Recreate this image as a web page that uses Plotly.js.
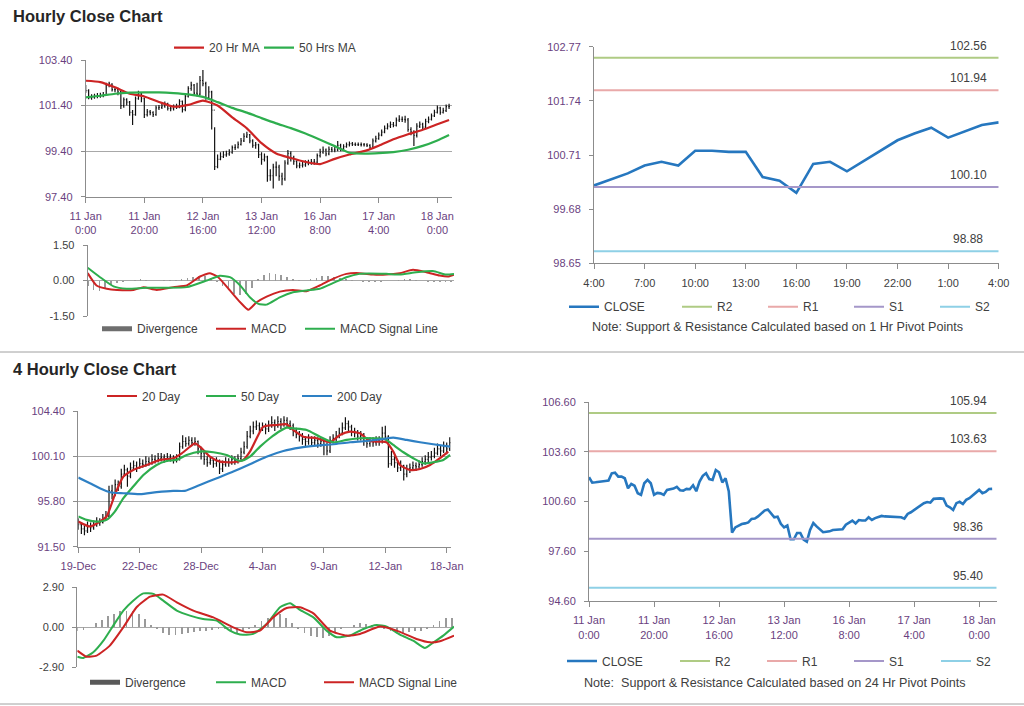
<!DOCTYPE html>
<html>
<head>
<meta charset="utf-8">
<script src="https://cdn.plot.ly/plotly-3.0.1.min.js"></script>
<style>
html,body{margin:0;padding:0;background:#fff;}
#chart{width:1024px;height:706px;}
</style>
</head>
<body>
<div id="chart"></div>
<script>
// ---------- Hourly data (11 Jan 0:00 -> 18 Jan ~4:00, 125 hourly bars) ----------
const hourlyTickText = ["11 Jan<br>0:00","11 Jan<br>20:00","12 Jan<br>16:00","13 Jan<br>12:00","16 Jan<br>8:00","17 Jan<br>4:00","18 Jan<br>0:00"];
const hourlyTickIdx = [0,20,40,60,80,100,120];
const hourlyClose = [102.06,101.74,101.76,101.80,101.82,101.84,101.86,102.30,102.34,102.10,
102.10,102.00,101.40,101.66,101.55,101.10,101.00,101.70,101.90,101.70,
101.00,101.12,101.09,101.00,101.30,101.32,101.38,101.48,101.28,101.26,
101.36,101.34,101.58,101.22,101.80,102.15,102.30,101.95,101.90,102.50,
102.36,101.75,102.00,101.20,98.72,99.04,99.16,99.24,99.28,99.34,
99.55,99.57,99.70,99.85,100.05,100.12,99.85,99.65,99.68,99.25,
99.04,99.15,98.32,98.32,98.70,98.70,98.30,98.18,98.88,99.30,
99.10,98.95,98.75,98.78,98.80,98.88,98.90,98.92,98.92,99.20,
99.35,99.45,99.28,99.48,99.45,99.45,99.65,99.49,99.60,99.68,
99.73,99.70,99.69,99.69,99.69,99.68,99.65,99.57,99.85,99.95,
100.10,100.23,100.40,100.50,100.57,100.53,100.76,100.79,100.79,100.77,
100.35,100.25,100.09,100.50,100.58,100.45,100.70,100.80,100.95,101.10,
101.30,101.10,101.18,101.35,101.36];
const hourlyOpenFirst = 102.10;
const hourlyHigh = [102.30,102.12,101.90,101.92,101.95,101.96,102.00,102.40,102.45,102.38,
102.22,102.18,102.05,101.75,101.72,101.60,101.20,101.80,102.05,101.95,
101.75,101.25,101.20,101.15,101.40,101.42,101.48,101.58,101.52,101.38,
101.45,101.48,101.68,101.62,101.90,102.25,102.45,102.35,102.40,102.70,
102.96,102.45,102.25,102.05,100.45,99.25,99.35,99.40,99.42,99.48,
99.65,99.70,99.82,99.98,100.18,100.25,100.15,99.92,99.80,99.72,
99.35,99.30,99.20,98.60,98.85,98.95,98.80,98.45,99.00,99.45,
99.40,99.20,99.00,98.90,98.92,99.00,99.02,99.05,99.05,99.30,
99.50,99.60,99.52,99.60,99.58,99.58,99.85,99.72,99.70,99.78,
99.82,99.80,99.78,99.78,99.78,99.76,99.75,99.70,99.95,100.08,
100.22,100.35,100.52,100.62,100.70,100.68,100.88,100.98,100.92,100.95,
100.85,100.45,100.32,100.62,100.70,100.65,100.82,100.92,101.05,101.22,
101.40,101.35,101.30,101.45,101.48];
const hourlyLow = [101.95,101.68,101.65,101.70,101.72,101.74,101.76,101.82,102.20,102.02,
101.98,101.85,101.25,101.30,101.40,100.95,100.55,100.95,101.65,101.55,
100.85,100.92,100.98,100.90,100.95,101.20,101.25,101.30,101.18,101.15,
101.18,101.25,101.28,101.10,101.15,101.75,102.05,101.85,101.80,101.85,
102.25,101.65,101.70,100.35,98.57,98.65,99.00,99.10,99.15,99.20,
99.28,99.45,99.52,99.65,99.80,99.98,99.75,99.55,99.50,99.10,
98.80,98.95,98.06,98.10,97.76,98.30,98.10,97.90,98.10,98.80,
98.95,98.80,98.65,98.65,98.68,98.72,98.78,98.80,98.80,98.85,
99.12,99.28,99.18,99.22,99.35,99.35,99.40,99.40,99.45,99.55,
99.60,99.62,99.62,99.62,99.60,99.60,99.58,99.48,99.52,99.78,
99.90,100.05,100.18,100.35,100.42,100.45,100.48,100.68,100.68,100.65,
100.25,100.10,99.62,100.00,100.42,100.35,100.40,100.62,100.75,100.90,
101.05,101.00,101.05,101.12,101.25];
const hourlyMaIdx = [0,5,10,15,20,25,30,35,40,45,50,55,60,65,70,75,80,85,90,95,100,105,110,115,120,124];
const ma20Hr = [102.49,102.43,102.20,101.92,101.80,101.56,101.35,101.43,101.62,101.40,100.88,100.40,99.75,99.30,99.10,98.93,98.83,99.06,99.25,99.40,99.64,99.92,100.14,100.34,100.58,100.77];
const ma50Hr = [101.76,101.83,101.92,101.97,101.98,101.98,101.95,101.89,101.78,101.55,101.30,101.09,100.85,100.62,100.41,100.17,99.90,99.62,99.33,99.29,99.31,99.36,99.46,99.63,99.87,100.11];
const hourlyPriceTicks = [97.40,99.40,101.40,103.40];

// Hourly MACD
const hMacdIdx = [0,3,6.5,10,15.6,19,23.5,29.2,33.8,38.3,41.7,44.5,48.5,52,54.8,57.6,61,65.5,70,74.6,79.1,83.6,88.2,92.7,97.3,101.8,106.4,110.9,115.5,120,122.9,124.9];
const hMacd = [0.31,-0.21,-0.35,-0.40,-0.40,-0.28,-0.40,-0.28,-0.21,0.17,0.31,0.14,-0.42,-0.92,-1.24,-0.92,-0.68,-0.47,-0.40,-0.45,-0.21,0.07,0.28,0.31,0.25,0.25,0.31,0.45,0.35,0.21,0.17,0.25];
const hSignalIdx = [0,4.2,8.8,13.3,20.1,26.9,33.8,40.6,45.1,48.5,52,55.3,58.2,61,65.5,70,74.6,79.1,83.6,88.2,92.7,101.8,106.4,112,117.7,122.2,124.9];
const hSignal = [0.54,0.14,-0.25,-0.35,-0.31,-0.31,-0.28,0.00,0.20,0.14,-0.21,-0.71,-0.99,-1.02,-0.71,-0.50,-0.42,-0.35,-0.11,0.14,0.28,0.28,0.25,0.35,0.40,0.25,0.28];
const hDivIdx = [0,2,4,6,8,10,12,14,16,18,20,22,24,26,28,30,32,34,36,38,40,42,44,46,48,50,52,54,56,58,60,62,64,66,68,70,72,74,76,78,80,82,84,86,88,90,92,94,96,98,100,102,104,106,108,110,112,114,116,118,120,122,124];
const hDiv = [-0.25,-0.40,-0.45,-0.35,-0.20,-0.10,-0.05,-0.03,0.02,0.05,0.03,-0.03,-0.04,0.02,0.03,0.02,0.05,0.10,0.15,0.20,0.18,0.12,-0.05,-0.25,-0.40,-0.55,-0.62,-0.55,-0.30,0.05,0.22,0.30,0.28,0.22,0.15,0.08,0.03,-0.03,0.05,0.12,0.20,0.18,0.15,0.10,0.05,0.02,-0.03,-0.05,-0.06,-0.05,-0.05,-0.04,0.00,0.04,0.06,0.05,0.02,-0.03,-0.06,-0.08,-0.08,-0.07,-0.05];
const hMacdTicks = [-1.5,0,1.5];
const hMacdTickText = ["-1.50","0.00","1.50"];

// 1 Hr pivot chart (last 24 hours)
const pivot1hTickText = ["4:00","7:00","10:00","13:00","16:00","19:00","22:00","1:00","4:00"];
const pivot1hTickIdx = [0,3,6,9,12,15,18,21,24];
const close1h = [100.13,100.25,100.36,100.51,100.58,100.51,100.79,100.79,100.77,100.77,100.29,100.22,99.99,100.54,100.58,100.40,100.60,100.80,100.99,101.12,101.23,101.04,101.16,101.28,101.33];
const levels1hNames = ["R2","R1","S1","S2"];
const levels1h = [102.56,101.94,100.10,98.88];
const pivot1hTicks = [98.65,99.68,100.71,101.74,102.77];

// ---------- 4 Hourly data (19 Dec -> 18 Jan, 122 bars) ----------
const fourTickText = ["19-Dec","22-Dec","28-Dec","4-Jan","9-Jan","12-Jan","18-Jan"];
const fourTickIdx = [0,20,40,60,80,100,120];
const fourOpenFirst = 93.9;
const fourClose = [93.6,93.2,93.0,93.5,93.3,93.6,93.9,93.8,94.2,94.4,
96.8,96.5,97.4,97.2,98.4,98.8,98.2,99.0,99.2,99.0,
99.4,99.3,99.6,99.5,99.8,99.7,99.9,100.0,99.8,100.0,
99.9,99.8,99.9,101.0,101.5,101.3,101.6,101.4,101.5,100.8,
100.4,99.8,99.5,99.7,99.4,99.6,98.9,99.3,99.6,99.5,
99.8,99.7,99.9,100.5,101.0,102.0,102.5,102.9,103.0,102.8,
102.9,102.7,103.0,103.3,103.0,103.4,103.1,103.5,103.2,103.0,
102.5,102.2,102.0,101.7,101.5,101.8,101.4,101.6,101.3,101.5,
101.2,100.6,101.6,101.8,102.0,102.3,102.8,103.2,102.9,102.4,
102.3,102.0,102.1,101.6,101.3,101.5,101.4,101.6,101.5,102.3,
102.0,99.4,99.8,99.5,99.0,99.2,98.4,98.9,99.0,99.2,
99.1,99.3,99.6,99.8,100.0,100.1,100.4,100.8,100.6,101.0,
100.8,101.4];
const fourHigh = [94.2,93.8,93.5,93.9,93.8,94.0,94.3,94.2,94.6,94.9,
97.3,97.4,97.9,97.8,98.9,99.3,99.0,99.5,99.7,99.6,
99.9,99.8,100.1,100.0,100.3,100.2,100.4,100.4,100.3,100.4,
100.3,100.2,100.3,101.4,102.1,101.9,102.0,101.9,101.9,101.6,
101.0,100.6,100.1,100.1,99.9,100.0,99.8,99.7,100.0,99.9,
100.2,100.1,100.3,100.9,101.5,102.5,103.0,103.4,103.5,103.3,
103.3,103.2,103.5,103.9,103.6,103.9,103.7,103.9,103.8,103.5,
103.2,102.8,102.5,102.3,102.0,102.2,102.0,102.0,101.9,101.9,
101.8,101.4,102.0,102.2,102.5,102.8,103.3,103.8,103.5,103.1,
102.8,102.6,102.5,102.3,101.9,101.9,101.9,102.0,102.0,102.9,
103.0,102.1,100.6,100.1,99.7,99.7,99.3,99.3,99.4,99.6,
99.5,99.7,100.0,100.2,100.5,100.6,100.9,101.3,101.1,101.5,
101.4,101.9];
const fourLow = [93.1,92.7,92.6,92.8,92.9,93.1,93.4,93.5,93.7,94.0,
94.3,96.0,96.3,96.8,97.0,98.2,97.2,98.0,98.8,98.6,
98.9,99.0,99.1,99.2,99.3,99.4,99.5,99.6,99.5,99.6,
99.6,99.4,99.5,99.7,100.8,101.0,101.1,101.1,101.1,100.3,
99.8,99.3,99.1,99.3,99.0,99.1,98.4,98.6,99.1,99.1,
99.3,99.3,99.4,99.7,100.3,100.8,101.8,102.2,102.6,102.4,
102.5,102.2,102.4,102.8,102.5,102.8,102.7,102.9,102.8,102.6,
102.0,101.8,101.5,101.2,101.0,101.2,101.0,101.1,100.9,101.0,
100.2,100.2,100.4,101.3,101.5,101.8,102.1,102.6,102.4,102.0,
101.9,101.6,101.6,101.1,100.9,101.0,101.0,101.1,101.1,101.3,
101.6,99.0,99.2,99.0,98.6,98.7,97.8,98.1,98.5,98.8,
98.7,98.9,99.1,99.3,99.5,99.7,99.9,100.2,100.1,100.4,
100.3,100.6];
const ma20DayIdx = [0,3.8,7,9.2,11.9,14.7,17.9,22.3,26.6,30.9,33.7,36.4,38,40.2,42.9,46.1,50.5,53.7,55.9,58.1,60.3,64.6,67.9,70,73.3,77.6,82,85.2,88.5,91.7,95,98.3,100.4,102.6,104.8,108,111.3,114.6,117.8,120.5];
const ma20Day = [93.89,93.42,93.89,94.37,96.43,98.17,98.80,99.27,99.75,99.91,100.38,101.01,101.33,100.86,100.06,99.59,99.53,99.75,100.54,101.81,102.91,103.07,103.13,102.60,101.96,101.81,101.43,102.12,102.44,102.28,101.55,101.49,101.43,100.54,99.27,98.80,98.89,99.27,99.91,100.54];
const ma50DayIdx = [0,2.7,6,9.2,11.9,14.7,17.9,21.2,25.5,28.8,32,35.3,39.6,44,48.3,52.7,55.9,59.2,62.4,65.7,67.9,70,74.4,78.7,83.1,87.4,91.7,96.1,99.9,102.6,105.9,109.1,112.4,115.6,118.9,121.1];
const ma50Day = [94.37,94.05,93.89,94.05,94.84,96.11,97.22,98.32,99.27,99.65,99.75,100.22,100.54,100.48,100.22,99.65,100.06,101.01,101.81,102.50,102.82,102.75,102.60,101.96,101.43,101.65,101.81,101.81,101.74,101.17,100.48,99.91,99.43,99.53,99.75,100.22];
const ma200DayIdx = [0,3.8,7,10.3,14.7,20.1,25.5,30.9,34.7,39.6,45.1,50.5,55.9,61.3,66.8,72.2,77.6,83.1,88.5,93.9,99.3,102.6,107,111.3,115.6,121.1];
const ma200Day = [98.07,97.53,97.06,96.68,96.58,96.49,96.68,96.81,96.81,97.37,98.01,98.64,99.34,100.06,100.60,100.92,101.11,101.24,101.43,101.55,101.74,101.87,101.65,101.43,101.24,101.01];
const fourPriceTicks = [91.50,95.80,100.10,104.40];

// 4 Hourly MACD
const fMacdIdx = [0,2,5.2,8.5,11.7,15,18.2,21.5,24.8,28,32.4,36.7,41,45.4,49.7,53,57.3,61.7,66,69.3,72.5,76.9,81.2,84.5,88.8,93.2,97.5,100.8,105.1,109.4,113.2,116,119.2,122.7];
const fMacd = [-2.13,-2.22,-1.81,-0.97,0.12,1.21,1.93,2.46,2.42,1.93,1.21,0.85,0.60,0.48,-0.24,-0.53,-0.48,0.24,1.45,1.74,1.26,0.72,-0.24,-0.72,-0.60,-0.12,0.17,0.05,-0.53,-0.97,-1.50,-1.09,-0.60,0.05];
const fSignalIdx = [0,3,6.3,10.6,15,19.3,23.7,28,32.4,37.8,44.3,50.8,55.2,59.5,63.8,68.2,72.5,76.9,82.3,87.7,92.1,98.6,104,110.5,114.9,118.1,122.7];
const fSignal = [-1.69,-2.13,-2.05,-1.33,0.00,1.45,2.22,2.37,1.81,1.21,0.72,0.00,-0.36,-0.24,0.72,1.40,1.45,1.01,-0.24,-0.60,-0.48,0.05,-0.24,-0.85,-1.09,-1.01,-0.60];
const fDivIdx = [0,2,4,6,8,10,12,14,16,18,20,22,24,26,28,30,32,34,36,38,40,42,44,46,48,50,52,54,56,58,60,62,64,66,68,70,72,74,76,78,80,82,84,86,88,90,92,94,96,98,100,102,104,106,108,110,112,114,116,118,120,122];
const fDiv = [-0.25,-0.20,0.05,0.30,0.55,0.80,1.00,1.15,1.20,1.15,1.00,0.60,0.20,-0.15,-0.40,-0.55,-0.55,-0.50,-0.40,-0.35,-0.30,-0.25,-0.20,-0.10,-0.15,-0.30,-0.45,-0.35,-0.10,0.20,0.45,0.70,0.90,1.00,0.70,0.30,-0.10,-0.40,-0.60,-0.70,-0.75,-0.65,-0.40,-0.15,0.05,0.20,0.30,0.25,0.15,0.00,-0.15,-0.25,-0.35,-0.40,-0.35,-0.30,-0.25,-0.10,0.20,0.45,0.65,0.70];
const fMacdTicks = [-2.9,0,2.9];
const fMacdTickText = ["-2.90","0.00","2.90"];

// 24 Hr pivot chart (hourly closes, same period as hourly chart)
const levels24hNames = ["R2","R1","S1","S2"];
const levels24h = [105.94,103.63,98.36,95.40];
const pivot24hTicks = [94.60,97.60,100.60,103.60,106.60];

// ---------- styling ----------
const W = 1024, H = 706;
const FONT = "Liberation Sans, Arial, sans-serif";
const RED = "#CC2424", GREEN = "#2EAE4E", BLUE = "#2677BF", BLUE2 = "#2E80C4";
const levelColors = ["#AFCB84","#E9A9A9","#A597C9","#8ED0E6"];
const purple = "#6A3F80", grayTxt = "#404040", axisCol = "#8C8C8C", gridCol = "#A8A8A8";
const px = (a,b) => [a/W, b/W];
const py = (top,bottom) => [1-bottom/H, 1-top/H];

function shiftOpen(first, closes){ return [first].concat(closes.slice(0,-1)); }

const traces = [];
// Top-left: hourly OHLC + MAs
traces.push({type:"ohlc", x: hourlyClose.map((_,i)=>i), open: shiftOpen(hourlyOpenFirst,hourlyClose), high: hourlyHigh, low: hourlyLow, close: hourlyClose,
  increasing:{line:{color:"#111",width:1.2}}, decreasing:{line:{color:"#111",width:1.2}}, tickwidth:0.3, showlegend:false, xaxis:"x", yaxis:"y", hoverinfo:"skip"});
traces.push({type:"scatter", mode:"lines", x: hourlyMaIdx, y: ma20Hr, name:"20 Hr MA", line:{color:RED,width:2.2,shape:"spline",smoothing:0.6}, xaxis:"x", yaxis:"y", legend:"legend"});
traces.push({type:"scatter", mode:"lines", x: hourlyMaIdx, y: ma50Hr, name:"50 Hrs MA", line:{color:GREEN,width:2.2,shape:"spline",smoothing:0.6}, xaxis:"x", yaxis:"y", legend:"legend11"});

// Top-left MACD
traces.push({type:"bar", x:hDivIdx, y:hDiv, marker:{color:"#9A9A9A"}, width:0.6, showlegend:false, xaxis:"x2", yaxis:"y2"});
traces.push({type:"scatter", mode:"lines", x:[null], y:[null], name:"Divergence", line:{color:"#6E6E6E",width:5}, xaxis:"x2", yaxis:"y2", legend:"legend2"});
traces.push({type:"scatter", mode:"lines", x:hMacdIdx, y:hMacd, name:"MACD", line:{color:RED,width:2,shape:"spline",smoothing:0.5}, xaxis:"x2", yaxis:"y2", legend:"legend3"});
traces.push({type:"scatter", mode:"lines", x:hSignalIdx, y:hSignal, name:"MACD Signal Line", line:{color:GREEN,width:2,shape:"spline",smoothing:0.5}, xaxis:"x2", yaxis:"y2", legend:"legend12"});

// Top-right: 1 Hr pivots
traces.push({type:"scatter", mode:"lines", x:close1h.map((_,i)=>i), y:close1h, name:"CLOSE", line:{color:BLUE,width:2.6}, xaxis:"x3", yaxis:"y3", legend:"legend4"});
levels1hNames.forEach((n,k)=>{
  traces.push({type:"scatter", mode:"lines", x:[0,24], y:[levels1h[k],levels1h[k]], name:n, line:{color:levelColors[k],width:2}, xaxis:"x3", yaxis:"y3", legend:"legend5"});
});

// Bottom-left: 4 hourly OHLC + MAs
traces.push({type:"ohlc", x: fourClose.map((_,i)=>i), open: shiftOpen(fourOpenFirst,fourClose), high: fourHigh, low: fourLow, close: fourClose,
  increasing:{line:{color:"#111",width:1.2}}, decreasing:{line:{color:"#111",width:1.2}}, tickwidth:0.3, showlegend:false, xaxis:"x4", yaxis:"y4", hoverinfo:"skip"});
traces.push({type:"scatter", mode:"lines", x:ma20DayIdx, y:ma20Day, name:"20 Day", line:{color:RED,width:2.2,shape:"spline",smoothing:0.6}, xaxis:"x4", yaxis:"y4", legend:"legend6"});
traces.push({type:"scatter", mode:"lines", x:ma50DayIdx, y:ma50Day, name:"50 Day", line:{color:GREEN,width:2.2,shape:"spline",smoothing:0.6}, xaxis:"x4", yaxis:"y4", legend:"legend6"});
traces.push({type:"scatter", mode:"lines", x:ma200DayIdx, y:ma200Day, name:"200 Day", line:{color:BLUE2,width:2.2,shape:"spline",smoothing:0.6}, xaxis:"x4", yaxis:"y4", legend:"legend13"});

// Bottom-left MACD
traces.push({type:"bar", x:fDivIdx, y:fDiv, marker:{color:"#9A9A9A"}, width:0.6, showlegend:false, xaxis:"x5", yaxis:"y5"});
traces.push({type:"scatter", mode:"lines", x:[null], y:[null], name:"Divergence", line:{color:"#595959",width:5}, xaxis:"x5", yaxis:"y5", legend:"legend7"});
traces.push({type:"scatter", mode:"lines", x:fMacdIdx, y:fMacd, name:"MACD", line:{color:GREEN,width:2,shape:"spline",smoothing:0.5}, xaxis:"x5", yaxis:"y5", legend:"legend8"});
traces.push({type:"scatter", mode:"lines", x:fSignalIdx, y:fSignal, name:"MACD Signal Line", line:{color:RED,width:2,shape:"spline",smoothing:0.5}, xaxis:"x5", yaxis:"y5", legend:"legend14"});

// Bottom-right: 24 Hr pivots
traces.push({type:"scatter", mode:"lines", x:hourlyClose.map((_,i)=>i), y:hourlyClose, name:"CLOSE", line:{color:BLUE,width:2.6}, xaxis:"x6", yaxis:"y6", legend:"legend9"});
levels24hNames.forEach((n,k)=>{
  traces.push({type:"scatter", mode:"lines", x:[0,125.4], y:[levels24h[k],levels24h[k]], name:n, line:{color:levelColors[k],width:2}, xaxis:"x6", yaxis:"y6", legend:"legend10"});
});

const tickFontPurple = {family:FONT,size:11,color:purple};
const tickFontGray = {family:FONT,size:11,color:grayTxt};

function xAxis(domain, range, tickvals, ticktext, font, anchor){
  return {domain, range, tickvals, ticktext, tickfont:font, showgrid:false, zeroline:false, showline:true, linecolor:axisCol, linewidth:1,
    ticks:"outside", ticklen:5, tickcolor:axisCol, anchor, fixedrange:true, rangeslider:{visible:false}, ticklabelstandoff:4};
}
function yAxis(domain, range, tickvals, font, anchor, grid, ticktext){
  const a = {domain, range, tickvals, tickformat:".2f", tickfont:font, showgrid:grid, gridcolor:gridCol, gridwidth:1, zeroline:false, showline:true,
    linecolor:axisCol, linewidth:1, ticks:"outside", ticklen:4, tickcolor:axisCol, anchor, fixedrange:true, ticklabelstandoff:6};
  if(ticktext) a.ticktext = ticktext;
  return a;
}
function noLabelX(domain, range, anchor){
  return {domain, range, showticklabels:false, ticks:"", showgrid:false, zeroline:false, showline:false, anchor, fixedrange:true};
}

const layout = {
  width:W, height:H, margin:{l:0,r:0,t:0,b:0}, paper_bgcolor:"#fff", plot_bgcolor:"rgba(0,0,0,0)",
  font:{family:FONT,size:11,color:grayTxt}, hovermode:false, bargap:0,
  xaxis: xAxis(px(85.7,451.7), [0,124.9], hourlyTickIdx, hourlyTickText, tickFontPurple, "y"),
  yaxis: yAxis(py(60,196.7), [97.4,103.4], hourlyPriceTicks, tickFontPurple, "x", true),
  xaxis2: noLabelX(px(87.7,454), [0,124.9], "y2"),
  yaxis2: yAxis(py(245,316), [-1.5,1.5], hMacdTicks, tickFontGray, "x2", true, hMacdTickText),
  xaxis3: xAxis(px(594,998.7), [0,24], pivot1hTickIdx, pivot1hTickText, tickFontGray, "y3"),
  yaxis3: yAxis(py(46.7,263.3), [98.65,102.77], pivot1hTicks, tickFontPurple, "x3", false),
  xaxis4: xAxis(px(78.3,450.7), [0,121.3], fourTickIdx, fourTickText, tickFontPurple, "y4"),
  yaxis4: yAxis(py(411,546.7), [91.5,104.4], fourPriceTicks, tickFontPurple, "x4", true),
  xaxis5: noLabelX(px(77.3,454), [0,122.7], "y5"),
  yaxis5: yAxis(py(587.3,667.3), [-2.9,2.9], fMacdTicks, tickFontGray, "x5", true, fMacdTickText),
  xaxis6: xAxis(px(589,996.7), [0,125.4], hourlyTickIdx, hourlyTickText, tickFontPurple, "y6"),
  yaxis6: yAxis(py(402,601), [94.6,106.6], pivot24hTicks, tickFontPurple, "x6", false),
  annotations: [],
  shapes: []
};

function lg(xLine, yCenter, entry){
  const o = {orientation:"h", x:(xLine-6)/W, xanchor:"left", y:1-yCenter/H, yanchor:"middle", bgcolor:"rgba(0,0,0,0)", borderwidth:0,
    font:{family:FONT,size:12,color:grayTxt}, itemwidth:30, traceorder:"normal"};
  if(entry) { o.entrywidth = entry; o.entrywidthmode = "pixels"; }
  return o;
}
layout.legend = lg(175, 47.7);
layout.legend11 = lg(265, 47.7);
layout.legend2 = lg(103, 328.7);
layout.legend3 = lg(217, 328.7);
layout.legend12 = lg(306, 328.7);
layout.legend4 = lg(570, 306.7);
layout.legend5 = lg(683, 306.7, 41);
layout.legend6 = lg(108, 396, 54);
layout.legend13 = lg(303, 396);
layout.legend7 = lg(91, 682.3);
layout.legend8 = lg(217, 682.3);
layout.legend14 = lg(325, 682.3);
layout.legend9 = lg(568, 661);
layout.legend10 = lg(681, 661, 42);

// Titles
layout.annotations.push({text:"<b>Hourly Close Chart</b>", xref:"paper", yref:"paper", x:11/W, y:1-16/H, xanchor:"left", yanchor:"middle", showarrow:false, font:{family:FONT,size:16.5,color:"#262626"}});
layout.annotations.push({text:"<b>4 Hourly Close Chart</b>", xref:"paper", yref:"paper", x:11/W, y:1-369/H, xanchor:"left", yanchor:"middle", showarrow:false, font:{family:FONT,size:16.5,color:"#262626"}});
// Notes
layout.annotations.push({text:"Note: Support & Resistance Calculated based on 1 Hr Pivot Points", xref:"paper", yref:"paper", x:777/W, y:1-326.7/H, xanchor:"center", yanchor:"middle", showarrow:false, font:{family:FONT,size:12.6,color:grayTxt}});
layout.annotations.push({text:"Note:  Support & Resistance Calculated based on 24 Hr Pivot Points", xref:"paper", yref:"paper", x:775/W, y:1-683.3/H, xanchor:"center", yanchor:"middle", showarrow:false, font:{family:FONT,size:12.6,color:grayTxt}});
// Level labels
levels1h.forEach(v=>layout.annotations.push({text:v.toFixed(2), xref:"paper", yref:"y3", x:968/W, y:v, xanchor:"center", yanchor:"bottom", yshift:3, showarrow:false, font:{family:FONT,size:12,color:grayTxt}}));
levels24h.forEach(v=>layout.annotations.push({text:v.toFixed(2), xref:"paper", yref:"y6", x:968/W, y:v, xanchor:"center", yanchor:"bottom", yshift:3, showarrow:false, font:{family:FONT,size:12,color:grayTxt}}));

// Section separators
layout.shapes.push({type:"line", xref:"paper", yref:"paper", x0:0, x1:1, y0:1-352/H, y1:1-352/H, line:{color:"#A0A0A0",width:1}});
layout.shapes.push({type:"line", xref:"paper", yref:"paper", x0:0, x1:1, y0:1-704/H, y1:1-704/H, line:{color:"#A0A0A0",width:1}});

Plotly.newPlot("chart", traces, layout, {staticPlot:true, displayModeBar:false});
</script>
</body>
</html>
